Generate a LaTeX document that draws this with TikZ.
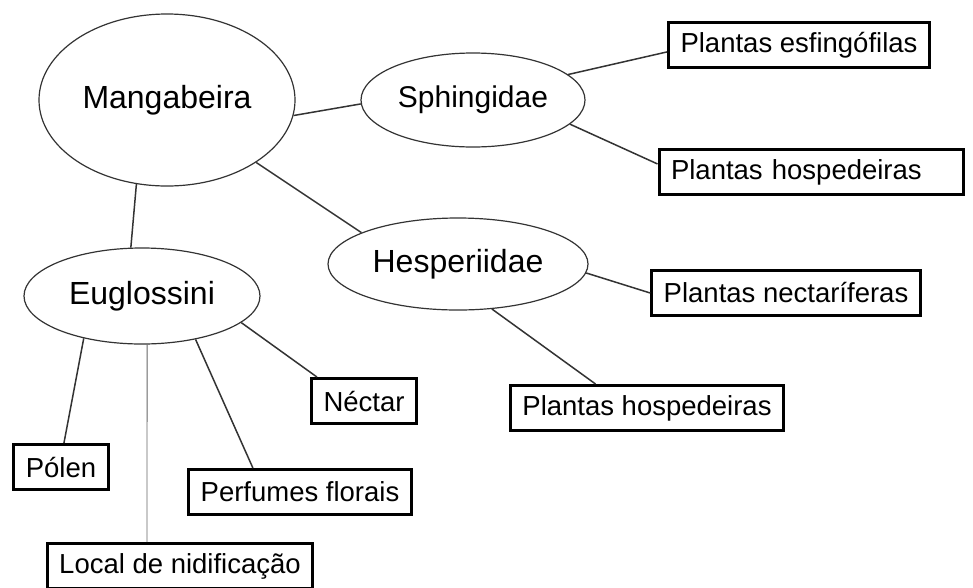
\documentclass[tikz,border=0pt]{standalone}
\usepackage{fontspec}
\setmainfont{Liberation Sans}
\usetikzlibrary{shapes.geometric}

\tikzset{
  taxon/.style={draw=black!80,line width=1.2pt,ellipse,inner sep=0pt,font=\fontsize{32}{36}\selectfont},
  recurso/.style={draw=black,line width=3pt,rectangle,inner xsep=12pt,inner ysep=0pt,
    minimum height=45pt,font=\fontsize{27.5}{32}\selectfont},
  liga/.style={draw=black!80,line width=1.5pt}
}

\begin{document}
\begin{tikzpicture}[x=1pt,y=-1pt]
\clip (0,0) rectangle (973,587);
\fill[white] (0,0) rectangle (973,587);
% centro e insetos
\node[taxon,minimum width=256pt,minimum height=172pt] (mang) at (167,100) {Mangabeira};
\node[taxon,minimum width=224pt,minimum height=94pt,font=\fontsize{30}{34}\selectfont] (sphi) at (473,100) {Sphingidae};
\node[taxon,minimum width=260pt,minimum height=92pt] (hesp) at (458,264) {Hesperiidae};
\node[taxon,minimum width=236pt,minimum height=96pt] (eugl) at (142,296) {Euglossini};
% recursos
\node[recurso] (esfing) at (799,45) {Plantas esfingófilas};
\node[recurso,text width=280pt,align=left] (hospS) at (811,172) {Plantas hospedeiras};
\node[recurso] (nectar) at (786,293) {Plantas nectaríferas};
\node[recurso] (hospH) at (647,408) {Plantas hospedeiras};
\node[recurso] (nec) at (364,401) {Néctar};
\node[recurso] (polen) at (61,467) {Pólen};
\node[recurso] (perf) at (300,492) {Perfumes florais};
\node[recurso] (local) at (180,566) {Local de nidificação};

\draw[liga] (mang.-7) -- (sphi.182);
\draw[liga] (mang.-35) -- (hesp.162);
\draw[liga] (mang.-110) -- (eugl.103);
\draw[liga] (sphi.15) -- (esfing.183);
\draw[liga] (sphi.-14) -- (hospS.177);
\draw[liga] (hesp.-4) -- (nectar.west);
\draw[liga] (hesp.-53) -- (hospH.155);
\draw[liga] (eugl.-15) -- (nec.153);
\draw[liga] (eugl.216) -- (polen.83);
\draw[liga] (eugl.-39) -- (perf.153);
\draw[black!60,line width=0.9pt] (eugl.-84) -- (local.144);
\end{tikzpicture}
\end{document}
